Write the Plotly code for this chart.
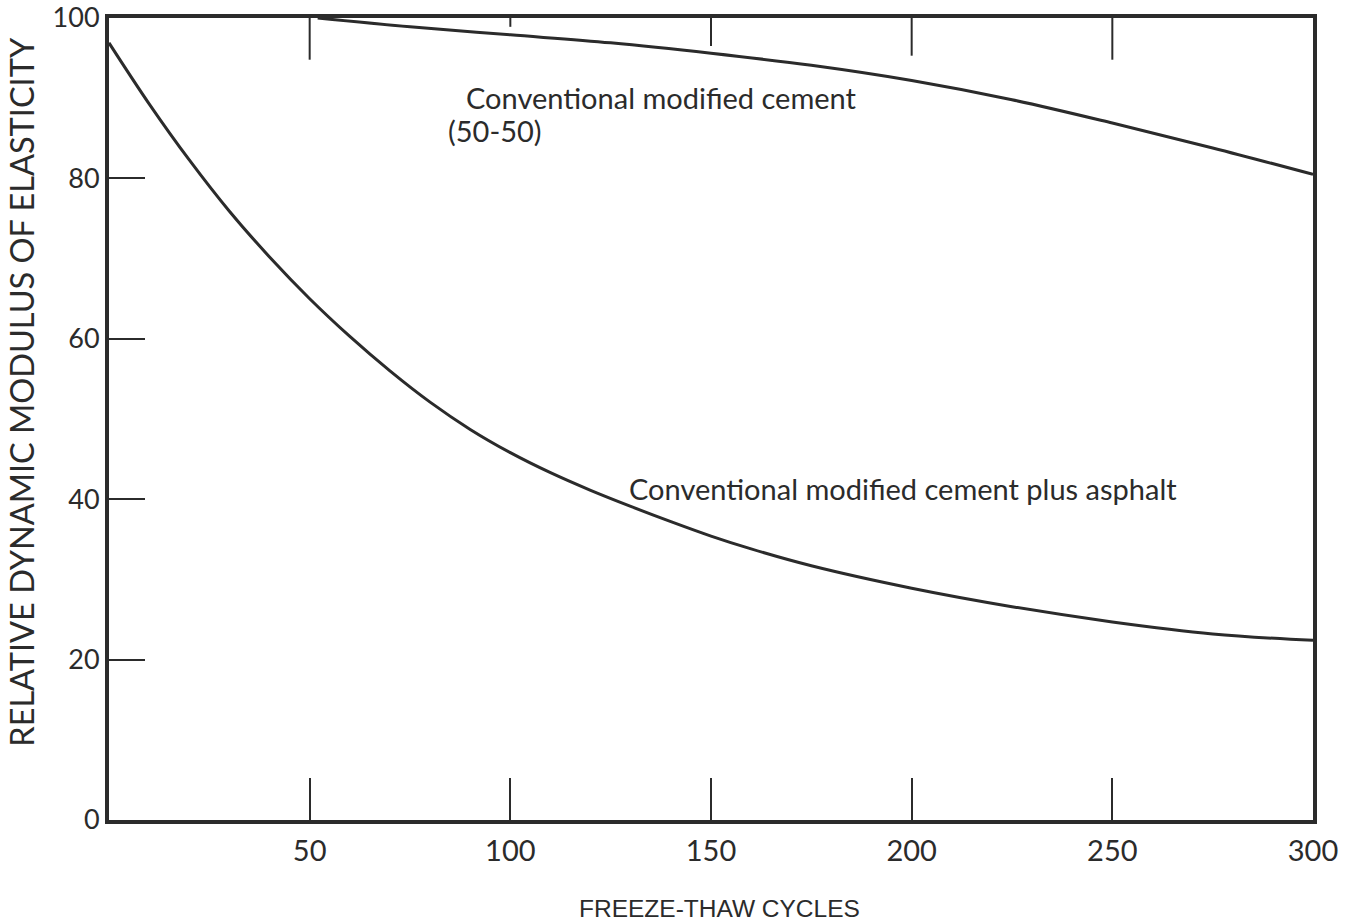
import plotly.graph_objects as go

# Freeze-thaw durability of two cement mixes
cycles_plain = [52, 75, 100, 125, 150, 175, 200, 225, 250, 275, 300]
modulus_plain = [100.0, 98.9, 97.9, 96.9, 95.6, 94.1, 92.2, 89.8, 86.9, 83.8, 80.5]

cycles_asphalt = [0, 10, 20, 30, 40, 50, 60, 70, 80, 90, 100, 110, 120, 130, 140,
                  150, 160, 175, 200, 225, 250, 275, 300]
modulus_asphalt = [96.9, 89.3, 82.3, 75.9, 70.2, 65.0, 60.3, 56.0, 52.1, 48.7, 45.8,
                   43.3, 41.1, 39.1, 37.2, 35.4, 33.8, 31.7, 28.9, 26.6, 24.7, 23.2, 22.4]

x_ticks = [50, 100, 150, 200, 250, 300]
y_ticks = [0, 20, 40, 60, 80, 100]
top_tick_x = [50, 100, 150, 200, 250]

INK = "#2b2b2b"
LABEL_FONT = "Lato"

fig = go.Figure()

for xs, ys in [(cycles_plain, modulus_plain), (cycles_asphalt, modulus_asphalt)]:
    fig.add_trace(go.Scatter(
        x=xs, y=ys, mode="lines",
        line=dict(color=INK, width=3, shape="spline", smoothing=1.0),
        hoverinfo="skip", showlegend=False, cliponaxis=False,
    ))

# short tick marks hanging from the top border
top_tick_len = [5.2, 1.1, 3.5, 4.7, 5.2]
for tx, tl in zip(top_tick_x, top_tick_len):
    fig.add_shape(type="line", xref="x", yref="y", x0=tx, x1=tx, y0=100, y1=100 - tl,
                  line=dict(color=INK, width=2))

fig.add_annotation(x=88.5, y=90.1, xref="x", yref="y", text="Conventional modified cement",
                   showarrow=False, xanchor="left", yanchor="middle",
                   font=dict(family=LABEL_FONT, size=29, color=INK))
fig.add_annotation(x=84, y=86.0, xref="x", yref="y", text="(50-50)",
                   showarrow=False, xanchor="left", yanchor="middle",
                   font=dict(family=LABEL_FONT, size=29, color=INK))
fig.add_annotation(x=129, y=41.3, xref="x", yref="y",
                   text="Conventional modified cement plus asphalt",
                   showarrow=False, xanchor="left", yanchor="middle",
                   font=dict(family=LABEL_FONT, size=29, color=INK))

# axis titles
fig.add_annotation(x=0.5, y=-0.11, xref="paper", yref="paper", text="FREEZE-THAW CYCLES",
                   showarrow=False, xanchor="center", yanchor="middle",
                   xshift=8,
                   font=dict(family="Liberation Sans", size=24.5, color=INK))
fig.add_annotation(x=0, y=0.534, xref="paper", yref="paper",
                   text="RELATIVE DYNAMIC MODULUS OF ELASTICITY",
                   showarrow=False, textangle=-90, xanchor="center", yanchor="middle",
                   xshift=-87,
                   font=dict(family=LABEL_FONT, size=32.5, color=INK))

fig.update_xaxes(
    range=[0, 300], tickvals=x_ticks, ticktext=[str(v) for v in x_ticks],
    ticks="inside", ticklen=42, tickwidth=2, tickcolor=INK,
    showline=True, linewidth=4, linecolor=INK, mirror=True,
    showgrid=False, zeroline=False, ticklabelstandoff=2,
    ticklabeloverflow="allow", automargin=False,
    tickfont=dict(family=LABEL_FONT, size=29, color=INK),
)
fig.update_yaxes(
    range=[0, 100], tickvals=y_ticks, ticktext=[str(v) for v in y_ticks],
    ticks="inside", ticklen=36, tickwidth=2, tickcolor=INK,
    showline=True, linewidth=4, linecolor=INK, mirror=True,
    showgrid=False, zeroline=False, ticklabeloverflow="allow", automargin=False,
    tickfont=dict(family=LABEL_FONT, size=27, color=INK),
)

fig.update_layout(
    width=1361, height=923,
    margin=dict(l=109, r=48, t=18, b=103),
    paper_bgcolor="white", plot_bgcolor="white",
    showlegend=False,
)

fig.write_html("out.html")
